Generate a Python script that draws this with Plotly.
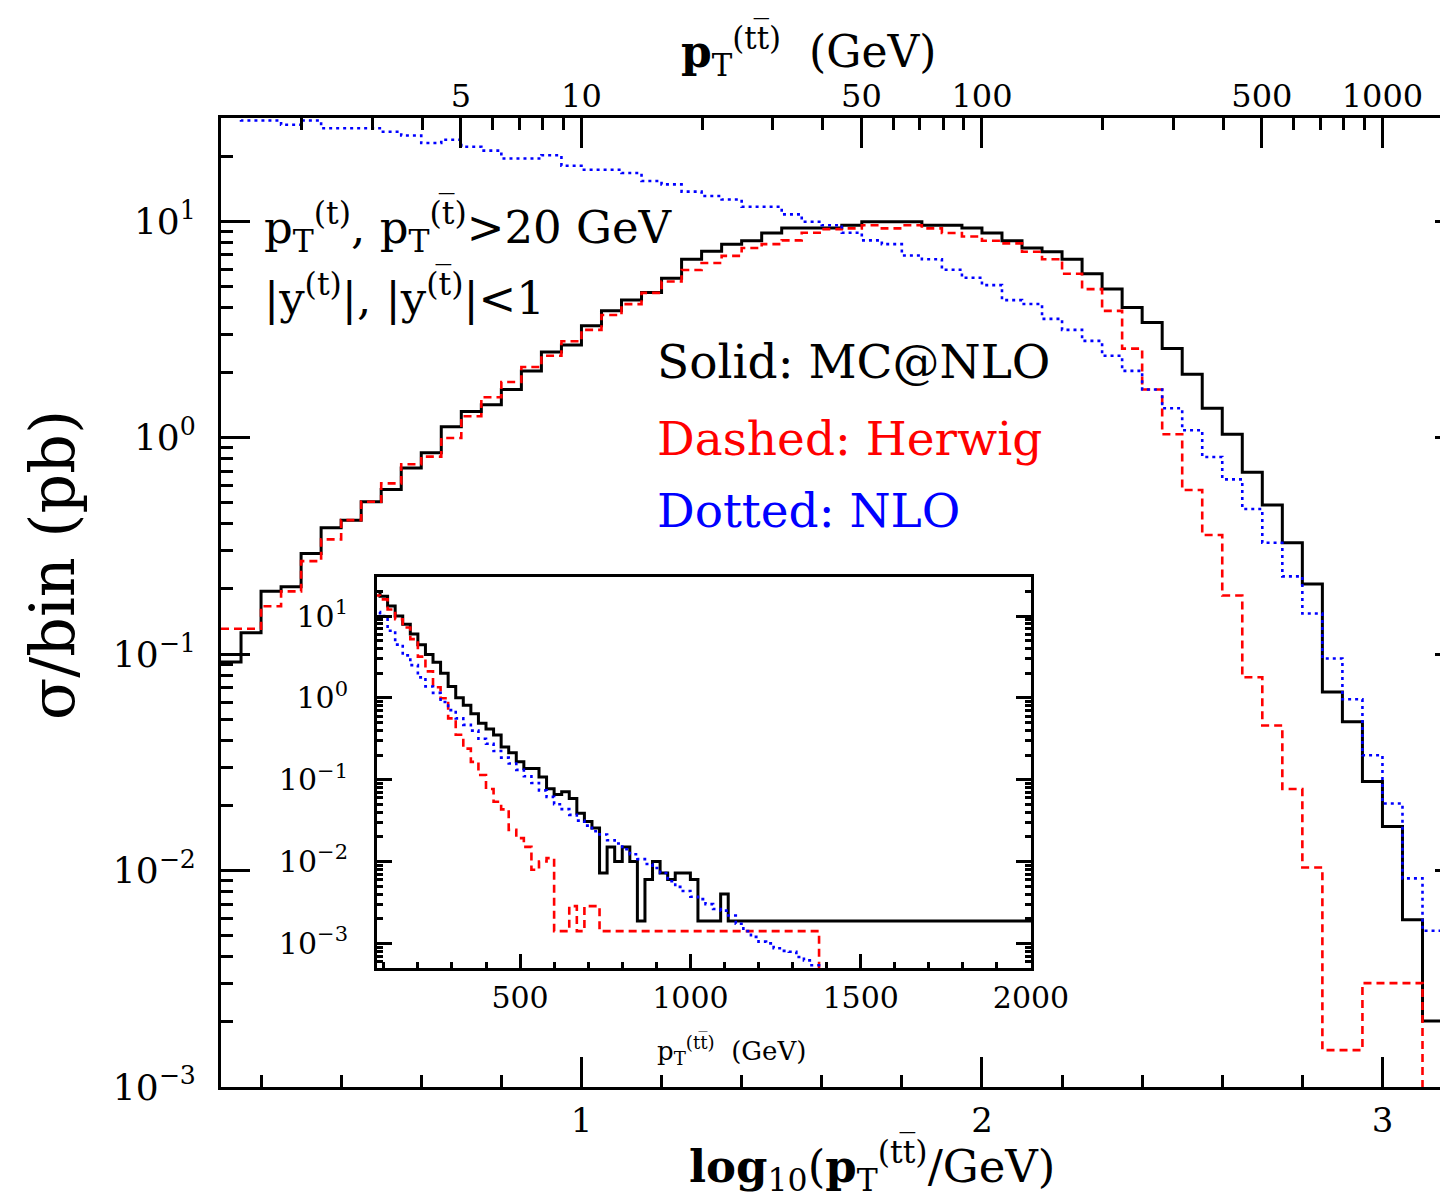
import numpy as np
import plotly.graph_objects as go

FONT = "DejaVu Serif"

# ---------------- main panel: sigma/bin vs log10(pT(tt)/GeV) ----------------
main_bin_start = 0.10
main_bin_width = 0.05
mcnlo_main = [0.092, 0.1255, 0.195, 0.205, 0.292, 0.384, 0.416, 0.506, 0.577, 0.724,
              0.853, 1.125, 1.32, 1.42, 1.67, 2.035, 2.49, 2.68, 3.29, 3.855,
              4.33, 4.69, 5.46, 6.68, 7.26, 7.84, 8.13, 8.82, 9.30, 9.30,
              9.30, 9.58, 9.95, 9.95, 9.95, 9.58, 9.58, 9.30, 8.82, 8.13,
              7.52, 7.23, 6.68, 5.72, 4.86, 4.00, 3.41, 2.58, 1.965, 1.368,
              1.037, 0.693, 0.489, 0.327, 0.211, 0.0669, 0.0487, 0.0258, 0.0160, 0.00592,
              0.00202, 0.00202]
herwig_main = [0.131, 0.131, 0.1665, 0.195, 0.269, 0.339, 0.416, 0.506, 0.615, 0.754,
               0.818, 0.997, 1.256, 1.538, 1.81, 2.12, 2.39, 2.79, 3.15, 3.69,
               4.14, 4.67, 5.27, 5.95, 6.41, 6.92, 7.52, 7.84, 8.16, 8.85,
               9.20, 9.27, 9.58, 9.27, 9.58, 9.27, 8.82, 8.51, 8.13, 7.9,
               7.23, 6.68, 5.72, 4.86, 3.855, 2.58, 1.67, 1.037, 0.573, 0.355,
               0.1866, 0.0782, 0.0468, 0.0238, 0.01033, 0.00148, 0.00148, 0.00302, 0.00302, 0.00302,
               1e-7, 1e-7]
nlo_main = [40, 29.2, 29.2, 27.9, 29.2, 26.9, 26.9, 26.9, 25.9, 24.9,
            23.0, 23.8, 22.1, 21.2, 19.5, 19.5, 20.2, 18.06, 17.3, 17.3,
            16.7, 15.35, 14.8, 13.7, 13.08, 12.6, 11.67, 11.67, 10.76, 9.95,
            9.58, 8.85, 8.16, 7.84, 6.95, 6.68, 5.97, 5.48, 5.07, 4.32,
            4.15, 3.54, 3.15, 2.80, 2.39, 2.035, 1.67, 1.368, 1.082, 0.814,
            0.642, 0.468, 0.327, 0.2286, 0.154, 0.0954, 0.0619, 0.0341, 0.0204, 0.0092,
            0.00527, 0.0008]

# ---------------- inset: sigma/bin vs pT(tt) in GeV ----------------
inset_bin_width = 2000.0 / 90
inset_first_edge = 3 * inset_bin_width
mcnlo_inset = [20.0, 17.4, 13.3, 10.0, 7.94, 6.03, 4.47, 3.39, 2.72, 2.00,
               1.38, 1.00, 0.813, 0.638, 0.490, 0.417, 0.352, 0.251, 0.214, 0.166,
               0.137, 0.137, 0.108, 0.0776, 0.0661, 0.0713, 0.0589, 0.0389, 0.0309, 0.0257,
               0.00724, 0.0151, 0.0100, 0.0151, 0.0100, 0.00187, 0.00603, 0.0100, 0.00724, 0.00603,
               0.00724, 0.00724, 0.00603, 0.00187, 0.00187, 0.00187, 0.00401] + [0.00187] * 40
herwig_inset = [17.8, 16.0, 12.0, 9.14, 7.24, 5.22, 3.19, 2.11, 1.35, 0.991,
                0.562, 0.355, 0.240, 0.165, 0.114, 0.0769, 0.0537, 0.0434, 0.0244, 0.0193,
                0.0151, 0.00794, 0.0100, 0.0110, 0.00141, 0.00141, 0.00285, 0.00141, 0.00285, 0.00285] \
               + [0.00141] * 29 + [1e-7] * 28
nlo_inset = [11.2, 10.0, 6.61, 4.47, 3.31, 2.51, 1.78, 1.38, 1.15, 0.891,
             0.708, 0.562, 0.468, 0.398, 0.316, 0.275, 0.224, 0.186, 0.158, 0.132,
             0.110, 0.0912, 0.0741, 0.0617, 0.0501, 0.0437, 0.0372, 0.0316, 0.0275, 0.0234,
             0.0214, 0.0182, 0.0166, 0.0141, 0.0123, 0.0107, 0.00933, 0.00832, 0.00724, 0.00575,
             0.00490, 0.00437, 0.00372, 0.00347, 0.00302, 0.00263, 0.00251, 0.00219, 0.00174, 0.00141,
             0.00120, 0.00105, 0.00100, 0.00087, 0.00081, 0.00079, 0.00068, 0.00062, 0.00054] + [1e-7] * 28

top_tick_vals = [5, 10, 50, 100, 500, 1000]
top_minor_vals = [2, 3, 4, 6, 7, 8, 9, 20, 30, 40, 60, 70, 80, 90, 200, 300, 400, 600, 700, 800, 900]
bottom_tick_vals = [1, 2, 3]
bottom_minor_vals = [0.2, 0.4, 0.6, 0.8, 1.2, 1.4, 1.6, 1.8, 2.2, 2.4, 2.6, 2.8]
y_tick_vals = [1e-3, 1e-2, 1e-1, 1, 10]
y_tick_text = ["10<sup>\u22123</sup>", "10<sup>\u22122</sup>", "10<sup>\u22121</sup>",
               "10<sup>0</sup>", "10<sup>1</sup>"]
inset_x_ticks = [500, 1000, 1500, 2000]


def hist_xy(start, width, values):
    n = len(values)
    edges = start + width * np.arange(n + 1)
    return list(edges), list(values) + [values[-1]]


def log_minor(lo_exp, hi_exp):
    out = []
    for e in range(lo_exp, hi_exp + 1):
        for m in range(2, 10):
            out.append(m * 10.0 ** e)
    return out


# The page body has an 8 px default margin; the layout is shifted to compensate.
W, H = 1448, 1201
ML, MT = 213, 110
PW, PH = 1227, 969
MR = W - ML - PW
MB = H - MT - PH

# screen-pixel -> paper helpers (plot area spans x 221..1448, y 118..1087 on screen)
def px(x):
    return (x - 221) / PW


def py(y):
    return (1087 - y) / PH


fig = go.Figure()

styles = [
    (mcnlo_main, mcnlo_inset, dict(color="black", width=3, dash="solid")),
    (herwig_main, herwig_inset, dict(color="#ff0000", width=2.6, dash="8px,5px")),
    (nlo_main, nlo_inset, dict(color="#0000ff", width=2.6, dash="3px,4px")),
]
for main_vals, inset_vals, line in styles:
    xm, ym = hist_xy(main_bin_start, main_bin_width, main_vals)
    fig.add_trace(go.Scatter(x=xm, y=ym, mode="lines", line=dict(shape="hv", **line),
                             xaxis="x", yaxis="y", showlegend=False, hoverinfo="skip"))
    xi, yi = hist_xy(inset_first_edge, inset_bin_width, inset_vals)
    fig.add_trace(go.Scatter(x=xi, y=yi, mode="lines", line=dict(shape="hv", **line),
                             xaxis="x3", yaxis="y3", showlegend=False, hoverinfo="skip"))

# helper traces so the top and right axes are drawn
fig.add_trace(go.Scatter(x=[0.5], y=[1e-6], mode="lines", xaxis="x2", yaxis="y",
                         showlegend=False, hoverinfo="skip"))
fig.add_trace(go.Scatter(x=[0.5], y=[1e-6], mode="lines", xaxis="x", yaxis="y2",
                         showlegend=False, hoverinfo="skip"))

x_range = [0.10, 0.10 + PW / 400.5]
y_range = [np.log10(1e-3), np.log10(30)]

fig.update_layout(
    width=W, height=H, autosize=False,
    margin=dict(l=ML, r=MR, t=MT, b=MB, pad=0, autoexpand=False),
    paper_bgcolor="white", plot_bgcolor="white",
    showlegend=False,
    xaxis=dict(domain=[0, 1], range=x_range, anchor="y", automargin=False,
               showline=True, linewidth=3, linecolor="black", mirror=False,
               showgrid=False, zeroline=False,
               tickmode="array", tickvals=bottom_tick_vals, ticktext=[str(v) for v in bottom_tick_vals],
               ticks="inside", ticklen=30, tickwidth=3, tickcolor="black",
               ticklabelstandoff=1,
               minor=dict(tickmode="array", tickvals=bottom_minor_vals, ticks="inside",
                          ticklen=12, tickwidth=3, tickcolor="black", showgrid=False),
               tickfont=dict(family=FONT, size=34, color="black")),
    xaxis2=dict(overlaying="x", side="top", anchor="y", range=x_range, automargin=False,
                showline=True, linewidth=3, linecolor="black",
                showgrid=False, zeroline=False,
                tickmode="array", tickvals=[np.log10(v) for v in top_tick_vals],
                ticktext=[str(v) for v in top_tick_vals],
                ticks="inside", ticklen=30, tickwidth=3, tickcolor="black",
                ticklabelstandoff=-5,
                minor=dict(tickmode="array", tickvals=[np.log10(v) for v in top_minor_vals],
                           ticks="inside", ticklen=12, tickwidth=3, tickcolor="black", showgrid=False),
                tickfont=dict(family=FONT, size=32, color="black")),
    yaxis=dict(domain=[0, 1], type="log", range=y_range, anchor="x", automargin=False,
               showline=True, linewidth=3, linecolor="black",
               showgrid=False, zeroline=False,
               tickmode="array", tickvals=y_tick_vals, ticktext=y_tick_text,
               ticks="inside", ticklen=29, tickwidth=3, tickcolor="black",
               ticklabelstandoff=15,
               minor=dict(tickmode="array", tickvals=log_minor(-3, 1), ticks="inside",
                          ticklen=12, tickwidth=3, tickcolor="black", showgrid=False),
               tickfont=dict(family=FONT, size=36, color="black")),
    yaxis2=dict(overlaying="y", side="right", anchor="x", type="log", range=y_range,
                automargin=False,
                showline=False, showgrid=False, zeroline=False,
                tickmode="array", tickvals=y_tick_vals, showticklabels=False,
                ticks="inside", ticklen=13, tickwidth=3, tickcolor="black"),
    xaxis3=dict(domain=[px(377), px(1031)], anchor="y3", range=[80, 2000], automargin=False,
                showline=True, linewidth=3, linecolor="black", mirror=True,
                showgrid=False, zeroline=False,
                tickmode="array", tickvals=inset_x_ticks, ticktext=[str(v) for v in inset_x_ticks],
                ticks="inside", ticklen=14, tickwidth=3, tickcolor="black",
                ticklabelstandoff=1,
                minor=dict(tickmode="linear", tick0=0, dtick=100, ticks="inside",
                           ticklen=6, tickwidth=3, tickcolor="black", showgrid=False),
                tickfont=dict(family=FONT, size=30, color="black")),
    yaxis3=dict(domain=[py(968), py(577)], anchor="x3", type="log", automargin=False,
                range=[np.log10(5e-4), np.log10(30)],
                showline=True, linewidth=3, linecolor="black", mirror="ticks",
                showgrid=False, zeroline=False,
                tickmode="array", tickvals=y_tick_vals, ticktext=y_tick_text,
                ticks="inside", ticklen=15, tickwidth=3, tickcolor="black",
                ticklabelstandoff=20,
                minor=dict(tickmode="array", tickvals=log_minor(-4, 1), ticks="inside",
                           ticklen=6, tickwidth=3, tickcolor="black", showgrid=False),
                tickfont=dict(family=FONT, size=30, color="black")),
)

TB = "t\u0305"
ann = [
    dict(text="p<sub>T</sub><sup>(t)</sup>, p<sub>T</sub><sup>(" + TB + ")</sup>&gt;20 GeV",
         x=px(262), y=py(226), xanchor="left", yanchor="middle", size=45, color="black"),
    dict(text="|y<sup>(t)</sup>|, |y<sup>(" + TB + ")</sup>|&lt;1",
         x=px(262), y=py(294), xanchor="left", yanchor="middle", size=45, color="black"),
    dict(text="Solid: MC@NLO", x=px(655), y=py(362), xanchor="left", yanchor="middle",
         size=47, color="black"),
    dict(text="Dashed: Herwig", x=px(655), y=py(438), xanchor="left", yanchor="middle",
         size=47, color="#ff0000"),
    dict(text="Dotted: NLO", x=px(655), y=py(510), xanchor="left", yanchor="middle",
         size=47, color="#0000ff"),
    dict(text="<b>p</b><sub>T</sub><sup>(t" + TB + ")</sup>  (GeV)",
         x=px(808), y=py(50), xanchor="center", yanchor="middle", size=44, color="black"),
    dict(text="<b>log</b><sub>10</sub>(<b>p</b><sub>T</sub><sup>(t" + TB + ")</sup>/GeV)",
         x=px(872), y=py(1164), xanchor="center", yanchor="middle", size=45, color="black"),
    dict(text="\u03c3/bin (pb)", x=px(52), y=py(565), xanchor="center", yanchor="middle",
         size=62, color="black", textangle=-90),
    dict(text="p<sub>T</sub><sup>(t" + TB + ")</sup>  (GeV)",
         x=px(731), y=py(1050), xanchor="center", yanchor="middle", size=26, color="black"),
]
for a in ann:
    fig.add_annotation(text=a["text"], x=a["x"], y=a["y"], xref="paper", yref="paper",
                       xanchor=a["xanchor"], yanchor=a["yanchor"], showarrow=False,
                       textangle=a.get("textangle", 0),
                       font=dict(family=FONT, size=a["size"], color=a["color"]))

fig.write_html("out.html")
